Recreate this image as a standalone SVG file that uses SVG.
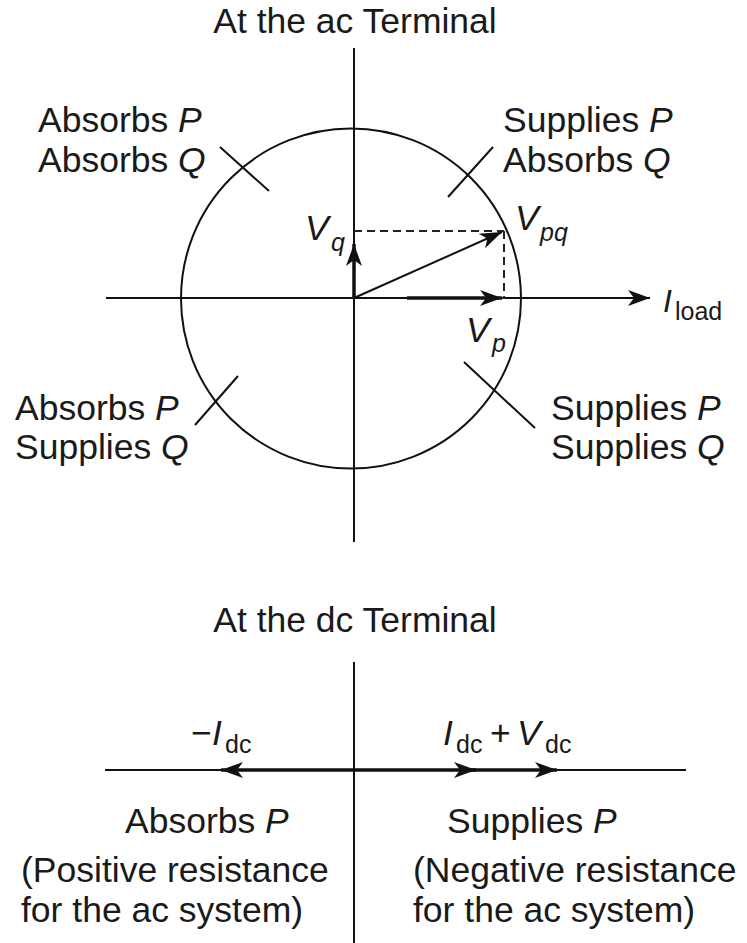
<svg xmlns="http://www.w3.org/2000/svg" width="747" height="943" viewBox="0 0 747 943">
<style>
text{font-family:"Liberation Sans",Arial,sans-serif;font-size:35.5px;fill:#1a1a1a}
.it{font-style:italic}
.sub{font-size:25px}
.ln{stroke:#111;stroke-width:2;fill:none}
.thick{stroke:#111;stroke-width:3.5;fill:none}
.dash{stroke:#222;stroke-width:2;stroke-dasharray:8 5;fill:none}
</style>
<defs>
<marker id="ah" markerUnits="userSpaceOnUse" viewBox="-24 -10 26 20" refX="0" refY="0" markerWidth="26" markerHeight="20" orient="auto">
<path d="M0,0 L-22,-8 L-16,0 L-22,8 Z" fill="#111"/>
</marker>
</defs>
<g id="ac-title"><text x="355" y="33" text-anchor="middle">At the ac Terminal</text></g>
<g id="connectors">
<line class="ln" x1="354" y1="48" x2="354" y2="542"/>
<line class="ln" x1="106" y1="298" x2="650" y2="298" marker-end="url(#ah)"/>
<circle class="ln" cx="351" cy="298.5" r="170"/>
<line class="ln" x1="220" y1="147" x2="269" y2="191"/>
<line class="ln" x1="493" y1="147" x2="448" y2="197"/>
<line class="ln" x1="238" y1="376" x2="195" y2="425"/>
<line class="ln" x1="464" y1="362" x2="535" y2="428"/>
<line class="dash" x1="354" y1="231" x2="504" y2="231"/>
<line class="dash" x1="504" y1="231" x2="504" y2="298"/>
<line class="thick" x1="354" y1="298" x2="354" y2="244" marker-end="url(#ah)"/>
<line class="ln" x1="354" y1="298" x2="502" y2="232" marker-end="url(#ah)"/>
<line class="thick" x1="407" y1="298" x2="502" y2="298" marker-end="url(#ah)"/>
<line class="ln" x1="354" y1="662" x2="354" y2="943"/>
<line class="ln" x1="105" y1="770" x2="686" y2="770"/>
<line class="thick" x1="354" y1="770" x2="221" y2="770" marker-end="url(#ah)"/>
<line class="thick" x1="354" y1="770" x2="476" y2="770" marker-end="url(#ah)"/>
<line class="thick" x1="470" y1="770" x2="557" y2="770" marker-end="url(#ah)"/>
</g>
<g id="q2"><text x="38" y="132">Absorbs <tspan class="it">P</tspan></text><text x="38" y="172">Absorbs <tspan class="it">Q</tspan></text></g>
<g id="q1"><text x="503" y="132">Supplies <tspan class="it">P</tspan></text><text x="503" y="172">Absorbs <tspan class="it">Q</tspan></text></g>
<g id="q3"><text x="15" y="420">Absorbs <tspan class="it">P</tspan></text><text x="15" y="459">Supplies <tspan class="it">Q</tspan></text></g>
<g id="q4"><text x="551" y="420">Supplies <tspan class="it">P</tspan></text><text x="551" y="459">Supplies <tspan class="it">Q</tspan></text></g>
<g id="vq"><text class="it" x="305" y="240">V</text><text class="it sub" x="331" y="251">q</text></g>
<g id="vpq"><text class="it" x="515" y="230">V</text><text class="it sub" x="540" y="241">pq</text></g>
<g id="vp"><text class="it" x="466" y="342">V</text><text class="it sub" x="492" y="352">p</text></g>
<g id="iload"><text class="it" x="663" y="312" style="font-size:32px">I</text><text class="sub" x="675" y="320">load</text></g>
<g id="dc-title"><text x="355" y="632" text-anchor="middle">At the dc Terminal</text></g>
<g id="neg-idc"><text x="191" y="745">−</text><text class="it" x="212" y="745">I</text><text class="sub" x="225" y="753">dc</text></g>
<g id="idc-vdc"><text class="it" x="443" y="745">I</text><text class="sub" x="456" y="753">dc</text><text x="490" y="745">+</text><text class="it" x="517" y="745">V</text><text class="sub" x="545" y="753">dc</text></g>
<g id="dc-left"><text x="125" y="833">Absorbs <tspan class="it">P</tspan></text><text x="21" y="882">(Positive resistance</text><text x="21" y="922">for the ac system)</text></g>
<g id="dc-right"><text x="447" y="833">Supplies <tspan class="it">P</tspan></text><text x="413" y="882">(Negative resistance</text><text x="413" y="922">for the ac system)</text></g>
</svg>
